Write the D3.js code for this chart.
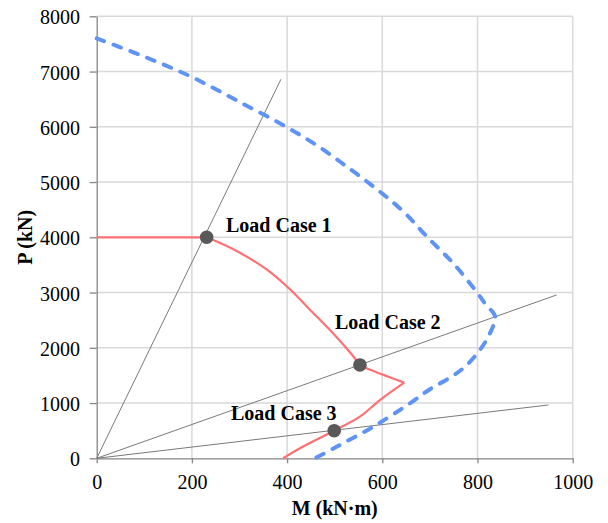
<!DOCTYPE html>
<html>
<head>
<meta charset="utf-8">
<script src="https://cdn.jsdelivr.net/npm/d3@7"></script>
<style>
  body { margin: 0; background: #fff; }
  svg text { font-family: "Liberation Serif", "Times New Roman", serif !important; fill: #000; }
</style>
</head>
<body>
<div id="chart-area"></div>
<script>
// interaction diagram (capacity), dashed blue
const capacityM = [0, 100, 200, 300, 400, 470, 530, 590, 645, 695, 749, 800, 818, 837, 826, 805, 774, 746, 700, 658, 581, 504, 459];
const capacityP = [7600, 7270, 6900, 6450, 5990, 5620, 5250, 4860, 4460, 4000, 3530, 2990, 2775, 2570, 2260, 1960, 1660, 1480, 1250, 995, 572, 210, 0];

// load path, red (corners at the listed indices)
const pathM = [0, 231, 287, 357, 406, 448, 497, 532, 553, 567, 646, 595, 553, 499, 427, 392];
const pathP = [4000, 4000, 3783, 3420, 3060, 2690, 2260, 1919, 1690, 1630, 1370, 1055, 753, 500, 181, 0];
const pathCorners = [0, 1, 8, 10, 15];

// load cases and their radial lines from origin
const caseNames = ["Load Case 1", "Load Case 2", "Load Case 3"];
const caseM = [231, 553, 499];
const caseP = [4000, 1690, 500];
const rayEndM = [387, 966, 949];
const rayEndP = [6860, 2956, 965];

const xTicks = [0, 200, 400, 600, 800, 1000];
const yTicks = [0, 1000, 2000, 3000, 4000, 5000, 6000, 7000, 8000];

const width = 608, height = 523;
const x = d3.scaleLinear().domain([0, 1000]).range([96.7, 572.7]);
const y = d3.scaleLinear().domain([0, 8000]).range([458.3, 16.3]);

const svg = d3.select("#chart-area").append("svg")
    .attr("width", width)
    .attr("height", height);

// grid
svg.append("g").selectAll("line")
    .data(yTicks.slice(1))
    .join("line")
    .attr("x1", x(0)).attr("x2", x(1000))
    .attr("y1", d => y(d)).attr("y2", d => y(d))
    .attr("stroke", "#d9d9d9").attr("stroke-width", 1.5);
svg.append("g").selectAll("line")
    .data(xTicks.slice(1))
    .join("line")
    .attr("x1", d => x(d)).attr("x2", d => x(d))
    .attr("y1", y(0)).attr("y2", y(8000))
    .attr("stroke", "#d9d9d9").attr("stroke-width", 1.5);

// axes
const fmt = d3.format("d");
const xAxis = svg.append("g")
    .attr("transform", `translate(0,${y(0)})`)
    .call(d3.axisBottom(x).tickValues(xTicks).tickFormat(fmt).tickSize(5).tickSizeOuter(0).tickPadding(11.5));
const yAxis = svg.append("g")
    .attr("transform", `translate(${x(0)},0)`)
    .call(d3.axisLeft(y).tickValues(yTicks).tickFormat(fmt).tickSize(7).tickSizeOuter(0).tickPadding(9.7));
[xAxis, yAxis].forEach(g => {
  g.attr("font-family", "Liberation Serif").attr("font-size", 20);
  g.select(".domain").attr("stroke", "#868686").attr("stroke-width", 1.3);
  g.selectAll(".tick line").attr("stroke", "#868686").attr("stroke-width", 1.3);
  g.selectAll("text").attr("fill", "#000");
});
yAxis.selectAll("text").attr("dy", "0.38em");

// rays
svg.append("g").selectAll("line")
    .data(caseNames.map((d, i) => i))
    .join("line")
    .attr("x1", x(0)).attr("y1", y(0))
    .attr("x2", i => x(rayEndM[i])).attr("y2", i => y(rayEndP[i]))
    .attr("stroke", "#7a7a7a").attr("stroke-width", 1);

const smooth = d3.line()
    .x(d => x(d[0]))
    .y(d => y(d[1]))
    .curve(d3.curveCatmullRom.alpha(0.5));

// capacity curve
svg.append("path")
    .datum(capacityM.map((m, i) => [m, capacityP[i]]))
    .attr("fill", "none")
    .attr("stroke", "#5f93f6")
    .attr("stroke-width", 4)
    .attr("stroke-linecap", "round")
    .attr("stroke-dasharray", "8,10")
    .attr("d", smooth);

// load path, drawn piece by piece so the corners stay sharp
const pathPts = pathM.map((m, i) => [m, pathP[i]]);
const pieces = d3.pairs(pathCorners).map(([a, b]) => pathPts.slice(a, b + 1));
svg.append("path")
    .attr("fill", "none")
    .attr("stroke", "#ff7074")
    .attr("stroke-width", 2.2)
    .attr("stroke-linejoin", "round")
    .attr("d", pieces.map(p => smooth(p)).join(""));

// load case points
svg.append("g").selectAll("circle")
    .data(caseNames.map((d, i) => i))
    .join("circle")
    .attr("cx", i => x(caseM[i])).attr("cy", i => y(caseP[i]))
    .attr("r", 6.8)
    .attr("fill", "#595959");

// labels
const labelX = [226, 335, 231];
const labelY = [232, 328.5, 420];
svg.append("g").selectAll("text")
    .data(caseNames)
    .join("text")
    .attr("x", (d, i) => labelX[i]).attr("y", (d, i) => labelY[i])
    .attr("font-size", 20).attr("font-weight", "bold")
    .text(d => d);

// axis titles
svg.append("text")
    .attr("x", (x(0) + x(1000)) / 2).attr("y", 515)
    .attr("text-anchor", "middle")
    .attr("font-size", 20).attr("font-weight", "bold")
    .text("M (kN·m)");
svg.append("text")
    .attr("transform", `translate(32,${(y(0) + y(8000)) / 2}) rotate(-90)`)
    .attr("text-anchor", "middle")
    .attr("font-size", 20).attr("font-weight", "bold")
    .text("P (kN)");
</script>
</body>
</html>
